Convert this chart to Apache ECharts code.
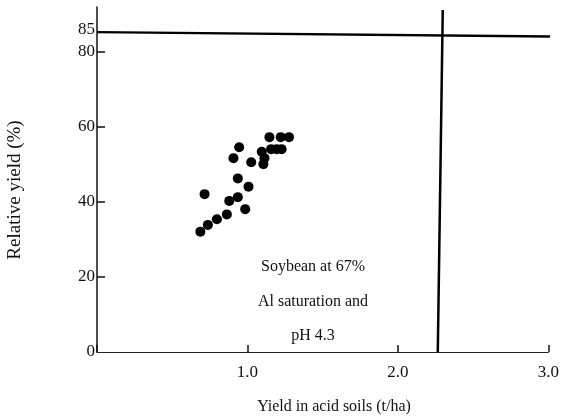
<!DOCTYPE html>
<html>
<head>
<meta charset="utf-8">
<script src="https://cdn.jsdelivr.net/npm/echarts@6/dist/echarts.min.js"></script>
<style>html,body{margin:0;padding:0;background:#fff;}#c{width:562px;height:420px;}</style>
</head>
<body>
<div id="c"></div>
<script>
// Yield in acid soil (t/ha)
var xValues = [0.687, 0.737, 0.797, 0.863, 0.715, 0.879, 0.936, 0.985, 1.007, 0.936, 0.907,
  0.945, 1.025, 1.095, 1.113, 1.106, 1.146, 1.157, 1.194, 1.221, 1.227, 1.276];
// Relative yield (%)
var yValues = [32.1, 33.9, 35.4, 36.7, 42.1, 40.3, 41.3, 38.1, 44.1, 46.3, 51.7,
  54.6, 50.6, 53.4, 51.7, 50.1, 57.3, 54.1, 54.1, 57.3, 54.1, 57.3];
var yTickValues = [20, 40, 60, 80];
var yLabelValues = [0, 20, 40, 60, 80, 85];
var xTickLabels = {1: '1.0', 2: '2.0', 3: '3.0'};
// reference lines (as drawn, slightly skewed in the scan)
var horizLine = [[0, 85.3], [3.05, 84.1]];
var vertLine = [[2.298, 91.2], [2.265, 0]];
var noteLines = ['Soybean at 67%', 'Al saturation and', 'pH 4.3'];
var xTitle = 'Yield in acid soils (t/ha)';
var yTitle = 'Relative yield (%)';

var points = xValues.map(function (x, i) { return [x, yValues[i]]; });
var font = 'Liberation Serif';
var chart = echarts.init(document.getElementById('c'));
var graphics = noteLines.map(function (t, i) {
  return {
    type: 'text',
    x: 313, y: 267 + i * 34.5,
    style: {text: t, fill: '#111', font: '16px "Liberation Serif"', align: 'center', verticalAlign: 'middle'}
  };
});
graphics.push({
  type: 'text', x: 334, y: 407,
  style: {text: xTitle, fill: '#111', font: '16px "Liberation Serif"', align: 'center', verticalAlign: 'middle'}
});
graphics.push({
  type: 'text', x: 15, y: 190, rotation: Math.PI / 2,
  style: {text: yTitle, fill: '#111', font: '19px "Liberation Serif"', align: 'center', verticalAlign: 'middle'}
});
chart.setOption({
  animation: false,
  backgroundColor: '#fff',
  grid: {left: 97, right: 11, top: 7, bottom: 68},
  xAxis: {
    type: 'value', min: 0, max: 3, interval: 1,
    splitLine: {show: false},
    axisLine: {lineStyle: {color: '#222', width: 1}},
    axisTick: {inside: true, length: 7, lineStyle: {color: '#111', width: 1.5}},
    axisLabel: {
      color: '#111', fontFamily: font, fontSize: 17, margin: 12,
      formatter: function (v) { return xTickLabels[v] || ''; }
    }
  },
  yAxis: {
    type: 'value', min: 0, max: 92,
    splitLine: {show: false},
    axisLine: {lineStyle: {color: '#111', width: 1.5}},
    axisTick: {inside: true, length: 8, customValues: yTickValues, lineStyle: {color: '#111', width: 1.5}},
    axisLabel: {
      color: '#111', fontFamily: font, fontSize: 17, margin: 2,
      customValues: yLabelValues,
      formatter: function (v) { return v === 85 ? '{up|85}' : String(v); },
      rich: {up: {fontFamily: font, fontSize: 17, color: '#111', padding: [0, 0, 8, 0]}}
    }
  },
  series: [
    {
      type: 'line', data: horizLine, symbol: 'none', clip: false, silent: true,
      lineStyle: {color: '#000', width: 2.5}
    },
    {
      type: 'line', data: vertLine, symbol: 'none', clip: false, silent: true,
      lineStyle: {color: '#000', width: 2.5}
    },
    {
      type: 'scatter', data: points, symbol: 'circle', symbolSize: 10,
      itemStyle: {color: '#000', opacity: 1}
    }
  ],
  graphic: graphics
});
</script>
</body>
</html>
